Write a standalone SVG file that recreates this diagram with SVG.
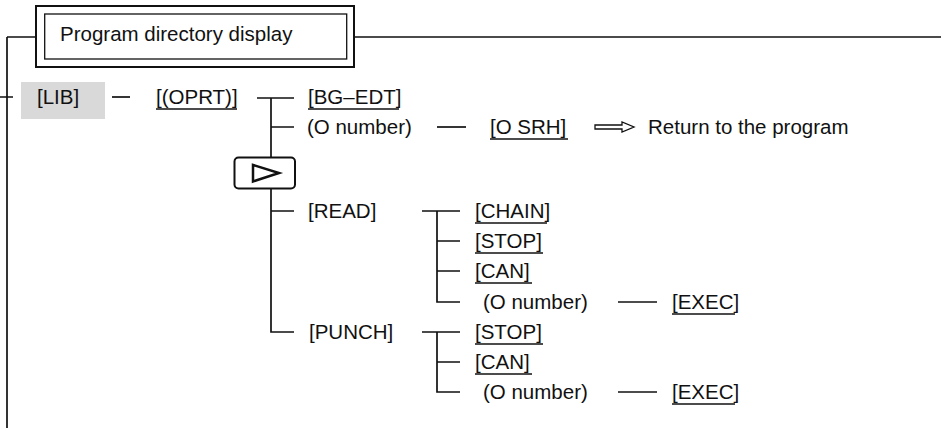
<svg xmlns="http://www.w3.org/2000/svg" width="941" height="428" viewBox="0 0 941 428">
<style>
text{font-family:"Liberation Sans",Arial,sans-serif;font-size:20.5px;fill:#111}
.ln{stroke:#111;stroke-width:1.7;fill:none}
.ul{stroke:#111;stroke-width:1.3}
</style>
<rect width="941" height="428" fill="#fff"/>
<g id="connectors">
<path class="ln" d="M7,37 H36 M354,37 H941 M7,37 V428 M0,97 H13"/>
<path class="ln" d="M112,97 H130"/>
<path class="ln" d="M257,98 H294 M271,98 V157.5 M271,188.5 V332 H294 M271,127 H294 M271,211 H294"/>
<path class="ln" d="M437,127 H466"/>
<path class="ln" d="M422,211 H460 M437,211 V302 H460 M437,241 H460 M437,271 H460"/>
<path class="ln" d="M618,302 H657"/>
<path class="ln" d="M422,332 H460 M437,332 V392 H460 M437,362 H460"/>
<path class="ln" d="M618,392 H657"/>
<polygon points="595,125 622,125 622,122 634,127 622,132 622,129 595,129" fill="#fff" stroke="#111" stroke-width="1.3"/>
</g>
<g id="title">
<rect x="36" y="6" width="318" height="61" fill="#fff" stroke="#111" stroke-width="2"/>
<rect x="44.7" y="14" width="302" height="45" fill="none" stroke="#111" stroke-width="1.3"/>
<text x="60" y="41">Program directory display</text>
</g>
<g id="lib">
<rect x="21" y="82" width="84" height="37" fill="#d9d9d9"/>
<text x="37" y="103.5">[LIB]</text>
</g>
<g id="oprt"><text x="156" y="104">[(OPRT)]</text><line class="ul" x1="156" y1="109" x2="237" y2="109"/></g>
<g id="bgedt"><text x="308" y="104">[BG–EDT]</text><line class="ul" x1="308" y1="109" x2="399" y2="109"/></g>
<g id="onum1"><text x="307" y="134">(O number)</text></g>
<g id="osrh"><text x="490" y="134">[O SRH]</text><line class="ul" x1="490" y1="139" x2="568" y2="139"/></g>
<g id="return"><text x="648" y="134">Return to the program</text></g>
<g id="nextkey">
<rect x="234.5" y="157.5" width="60.5" height="31" rx="4" fill="#fff" stroke="#111" stroke-width="2"/>
<polygon points="253,165 253,181.5 279,173" fill="none" stroke="#111" stroke-width="2.5" stroke-linejoin="miter"/>
</g>
<g id="read"><text x="308" y="218">[READ]</text></g>
<g id="chain"><text x="475" y="218">[CHAIN]</text><line class="ul" x1="475" y1="223" x2="547" y2="223"/></g>
<g id="stop1"><text x="475" y="248">[STOP]</text><line class="ul" x1="475" y1="253" x2="543" y2="253"/></g>
<g id="can1"><text x="475" y="278">[CAN]</text><line class="ul" x1="475" y1="283" x2="532" y2="283"/></g>
<g id="onum2"><text x="483" y="309">(O number)</text></g>
<g id="exec1"><text x="672" y="309">[EXEC]</text><line class="ul" x1="672" y1="314" x2="735" y2="314"/></g>
<g id="punch"><text x="309" y="339">[PUNCH]</text></g>
<g id="stop2"><text x="475" y="339">[STOP]</text><line class="ul" x1="475" y1="344" x2="543" y2="344"/></g>
<g id="can2"><text x="475" y="369">[CAN]</text><line class="ul" x1="475" y1="374" x2="532" y2="374"/></g>
<g id="onum3"><text x="483" y="399">(O number)</text></g>
<g id="exec2"><text x="672" y="399">[EXEC]</text><line class="ul" x1="672" y1="404" x2="735" y2="404"/></g>
</svg>
